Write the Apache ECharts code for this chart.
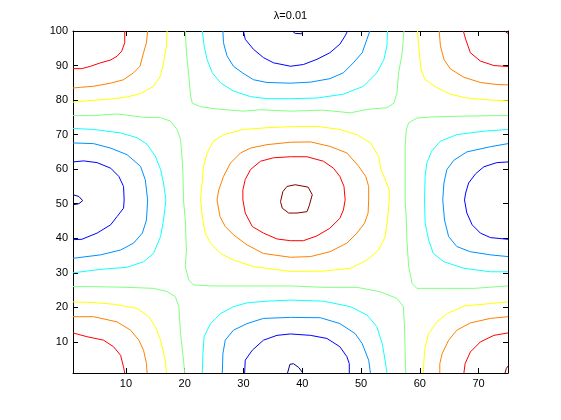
<!DOCTYPE html>
<html>
<head>
<meta charset="utf-8">
<script src="https://cdn.jsdelivr.net/npm/echarts@6/dist/echarts.min.js"></script>
<style>
html,body{margin:0;padding:0;background:#fff;}
#chart{width:561px;height:420px;}
</style>
</head>
<body>
<div id="chart"></div>
<script>
// ---- data (data coordinates) ----
const chartTitle = 'λ=0.01';
const xTicks = [10, 20, 30, 40, 50, 60, 70];
const yTicks = [10, 20, 30, 40, 50, 60, 70, 80, 90, 100];
const xRange = [1, 75];
const yRange = [1, 100];
const levels = [-0.8, -0.6, -0.4, -0.2, 0, 0.2, 0.4, 0.6, 0.8];

// contour lines, one list of polylines per level
const contourNeg08 = [
  [[1,52.6],[2.0,52.1],[2.65,50.9],[2.0,50.0],[1,49.7]],
  [[38.3,100],[38.8,99.3],[39.9,99.2],[40.1,100]],
  [[37.5,1],[37.9,3.5],[38.5,3.7],[39.4,2.6],[40.1,1]]
];
const contourNeg06 = [
  [[30.0,100],[30.3,97.6],[31.7,94.7],[33.4,92.3],[35.1,90.8],[38.0,89.8],[40.2,90.3],[42.5,91.8],[44.7,93.7],[46.4,96.2],[47.3,98.6],[47.7,100]],
  [[1,62.1],[2.8,62.4],[5.1,61.9],[7.4,60.3],[8.8,57.9],[9.6,55.0],[9.7,51.1],[9.6,48.7],[8.5,46.3],[7.4,43.9],[5.1,41.5],[2.5,39.7],[1,39.6]],
  [[30.2,1],[30.3,4.7],[31.5,7.6],[33.4,10.5],[35.7,11.9],[38.0,12.3],[41.4,11.9],[44.2,11.0],[46.4,8.6],[47.6,5.7],[48.0,3.7],[48.0,1]],
  [[75,62.1],[73.1,61.9],[70.9,60.7],[69.5,58.7],[68.3,56.0],[67.8,53.1],[67.6,51.1],[68.0,47.3],[68.9,43.9],[70.3,41.5],[72.0,40.2],[75,39.7]]
];
const contourNeg04 = [
  [[26.5,100],[26.6,96.6],[27.2,92.8],[28.3,89.8],[29.8,87.9],[31.7,85.9],[34.0,85.1],[38.0,84.9],[41.4,85.2],[44.7,86.2],[47.0,87.9],[48.7,90.8],[50.2,93.7],[51.0,97.6],[51.5,100]],
  [[1,67.6],[4.5,67.4],[7.4,66.1],[10.2,64.2],[12.5,60.8],[13.3,56.9],[13.7,51.1],[13.5,45.3],[12.8,41.5],[11.3,38.6],[9.1,36.6],[5.7,35.2],[1,34.2]],
  [[26.4,1],[26.5,6.6],[26.9,10.5],[28.3,13.4],[30.6,15.3],[33.4,16.8],[38.0,17.1],[43.1,17.0],[46.4,15.3],[49.0,12.4],[50.2,9.5],[51.3,4.7],[51.6,1]],
  [[75,67.4],[72.0,66.5],[68.0,65.0],[65.8,62.6],[64.6,59.9],[64.1,56.0],[63.9,51.1],[64.2,45.3],[64.9,40.5],[66.3,37.6],[68.6,36.1],[72.0,35.2],[75,34.7]]
];
const contourNeg02 = [
  [[23.0,100],[23.3,95.7],[23.8,91.8],[24.7,87.9],[26.1,85.0],[28.3,82.6],[31.2,81.0],[34.0,80.4],[38.0,80.4],[42.5,80.6],[47.0,81.7],[50.4,84.0],[52.7,87.9],[53.9,91.8],[54.4,95.7],[54.5,100]],
  [[1,71.8],[4.5,71.5],[9.1,70.5],[11.9,69.1],[13.6,67.2],[15.0,63.8],[15.9,59.9],[16.4,56.0],[16.8,51.1],[16.4,45.3],[15.9,40.5],[14.7,35.6],[13.0,33.2],[10.2,31.6],[5.7,31.0],[1,30.0]],
  [[23.0,1],[23.1,6.6],[23.3,11.5],[24.4,15.3],[26.1,18.2],[28.3,20.2],[30.6,21.3],[34.0,21.8],[38.0,22.1],[43.6,21.8],[48.2,20.2],[51.0,17.8],[52.7,14.4],[53.6,9.5],[54.1,4.7],[54.4,1]],
  [[75,71.5],[70.9,71.0],[66.3,70.0],[63.5,68.1],[62.0,65.2],[61.2,61.8],[60.9,57.9],[60.8,51.1],[60.9,44.4],[61.5,39.5],[62.3,35.6],[64.1,33.2],[67.5,31.3],[72.0,30.3],[75,30.3]]
];
const contourZero = [
  [[20.1,100],[20.3,93.7],[20.7,87.0],[21.0,81.2],[21.3,79.1],[22.7,78.1],[25.5,77.4],[30.0,76.8],[32.9,77.2],[38.0,76.8],[43.6,77.1],[48.2,76.3],[51.0,77.3],[54.4,77.8],[55.6,79.1],[56.1,82.1],[56.4,87.9],[57.0,93.7],[57.3,100]],
  [[1,75.5],[4.5,75.5],[8.5,76.0],[13.0,75.0],[15.9,74.9],[17.6,73.9],[18.7,71.5],[19.3,68.6],[19.5,64.7],[19.7,58.9],[19.8,51.1],[20.1,45.3],[20.3,36.6],[20.1,31.8],[20.7,27.9],[21.5,26.5],[24.4,26.2],[30.0,26.2],[38.0,26.2],[43.6,25.8],[49.3,25.8],[53.3,24.5],[56.1,22.6],[57.2,20.2],[57.4,14.4],[57.5,7.6],[57.6,1]],
  [[75,75.5],[72.0,75.5],[66.3,75.3],[61.8,75.1],[59.5,74.8],[58.1,73.4],[57.7,71.5],[57.5,66.5],[57.5,59.9],[57.5,51.1],[57.7,45.3],[57.8,39.5],[58.1,31.8],[58.7,26.9],[59.5,25.5],[63.5,25.5],[69.2,25.5],[75,26.2]],
  [[1,26.0],[4.5,26.0],[10.2,25.8],[14.7,25.5],[17.0,24.6],[18.4,23.1],[19.0,20.2],[19.3,12.4],[19.8,4.7],[20.0,1]]
];
const contourPos02 = [
  [[17.0,100],[16.9,95.7],[16.4,90.8],[15.9,87.0],[14.7,84.0],[12.5,81.9],[10.2,80.9],[7.4,80.3],[3.4,79.8],[1,79.4]],
  [[59.6,100],[59.8,95.7],[60.2,88.9],[60.9,85.9],[62.9,83.6],[65.2,81.7],[68.0,80.6],[72.0,80.0],[75,79.8]],
  [[1,21.6],[4.5,21.4],[7.9,20.9],[11.9,19.7],[13.9,17.3],[15.0,14.4],[15.9,10.5],[16.7,4.7],[16.9,1]],
  [[75,21.6],[72.0,21.1],[67.5,20.4],[64.7,18.2],[62.9,15.8],[61.5,12.4],[60.9,8.6],[60.7,4.7],[60.6,1]],
  [[22.7,51.1],[23.0,56.8],[23.2,60.7],[23.8,64.7],[24.9,68.1],[26.6,70.0],[30.0,71.5],[34.0,72.0],[38.0,72.3],[42.5,72.4],[46.4,71.5],[49.3,70.0],[51.6,67.6],[53.0,63.7],[53.4,59.9],[54.8,54.0],[54.8,51.1],[54.5,45.3],[54.1,40.5],[53.0,36.6],[51.0,33.7],[48.2,31.3],[43.6,30.5],[38.0,30.4],[31.7,31.8],[28.3,33.7],[26.1,35.6],[24.4,38.6],[23.5,41.5],[23.0,46.3],[22.7,51.1]]
];
const contourPos04 = [
  [[13.7,100],[13.5,96.6],[13.0,93.7],[12.4,89.8],[11.3,87.9],[9.6,85.9],[7.4,84.9],[4.5,84.0],[2.3,83.7],[1,83.5]],
  [[63.3,100],[63.5,95.7],[64.1,91.8],[65.2,89.0],[67.5,86.6],[70.3,85.1],[73.1,84.5],[75,84.4]],
  [[1,17.3],[4.5,17.3],[8.5,15.8],[10.8,13.4],[12.2,10.5],[13.0,7.6],[13.5,3.7],[13.6,1]],
  [[75,17.3],[72.0,16.8],[68.6,15.5],[66.3,13.4],[64.9,10.5],[63.8,6.6],[63.4,3.7],[63.4,1]],
  [[25.5,51.1],[25.8,54.0],[26.6,57.9],[27.8,61.8],[29.5,64.7],[31.2,66.1],[34.0,67.1],[38.0,67.8],[41.4,67.9],[44.7,66.6],[47.6,64.7],[49.6,60.8],[50.8,57.9],[51.3,55.0],[51.3,51.1],[51.2,47.3],[50.6,44.4],[49.3,41.5],[47.6,38.6],[44.7,36.1],[41.4,34.7],[38.0,34.5],[33.4,35.6],[30.6,38.1],[28.3,41.0],[26.9,43.4],[26.0,46.3],[25.5,51.1]]
];
const contourPos06 = [
  [[9.8,100],[9.8,96.6],[9.3,94.2],[8.5,92.7],[7.4,91.6],[5.7,90.8],[4.0,89.8],[2.5,89.1],[1,89.1]],
  [[67.4,100],[67.8,97.6],[68.6,93.7],[70.3,91.3],[72.6,90.0],[75,89.7]],
  [[1,12.6],[3.4,11.5],[6.2,10.5],[7.9,8.6],[9.1,6.1],[9.6,2.7],[9.8,1]],
  [[75,12.6],[72.6,11.9],[70.3,10.0],[68.6,7.1],[67.7,3.7],[67.5,1]],
  [[29.9,51.1],[29.9,54.0],[30.3,57.0],[31.2,59.9],[32.9,62.3],[35.1,63.3],[38.0,63.6],[40.8,63.6],[43.6,62.3],[45.3,60.3],[46.4,57.9],[47.1,55.0],[47.3,51.1],[47.0,48.2],[46.4,45.8],[44.7,42.9],[42.5,40.7],[40.2,39.3],[38.0,39.3],[35.7,39.8],[33.4,41.5],[31.5,43.4],[30.3,47.3],[29.9,51.1]]
];
const contourPos08 = [
  [[38.8,55.5],[41.0,54.8],[41.7,52.6],[41.2,49.5],[40.8,47.7],[39.1,47.3],[37.7,47.3],[36.6,48.7],[36.3,50.6],[36.7,53.5],[37.4,55.0],[38.8,55.5]],
  [[74.4,100],[75,99.3]],
  [[74.5,1],[74.7,2.3],[75,3.0]]
];
const contoursByLevel = [contourNeg08, contourNeg06, contourNeg04, contourNeg02, contourZero, contourPos02, contourPos04, contourPos06, contourPos08];

// ---- styles ----
const levelColors = ['#00008f', '#0000ff', '#0090ff', '#10ffff', '#80ff80', '#ffff00', '#ff8000', '#ff0000', '#800000'];
const fontFamily = '"Liberation Sans", Arial, Helvetica, sans-serif';

const series = [];
contoursByLevel.forEach((lines, li) => {
  lines.forEach((pts) => {
    series.push({
      type: 'line',
      name: 'level ' + levels[li],
      data: pts,
      xAxisIndex: 0,
      yAxisIndex: 0,
      showSymbol: false,
      symbol: 'none',
      smooth: false,
      clip: true,
      silent: true,
      animation: false,
      lineStyle: { color: levelColors[li], width: 1 }
    });
  });
});

const axisLineStyle = { show: true, onZero: false, lineStyle: { color: '#000', width: 1 } };
const tickStyle = (vals) => ({ show: true, inside: true, length: 5, customValues: vals, lineStyle: { color: '#000', width: 1 } });

const chart = echarts.init(document.getElementById('chart'), null, { renderer: 'canvas' });
chart.setOption({
  backgroundColor: '#fff',
  animation: false,
  grid: { left: 73, right: 53, top: 31, bottom: 47, containLabel: false },
  xAxis: [
    { type: 'value', min: xRange[0], max: xRange[1], position: 'bottom',
      axisLine: axisLineStyle, axisTick: tickStyle(xTicks),
      axisLabel: { customValues: xTicks, color: '#000', fontSize: 11, fontFamily: fontFamily, margin: 5 },
      splitLine: { show: false } },
    { type: 'value', min: xRange[0], max: xRange[1], position: 'top',
      axisLine: axisLineStyle, axisTick: tickStyle(xTicks),
      axisLabel: { show: false }, splitLine: { show: false } }
  ],
  yAxis: [
    { type: 'value', min: yRange[0], max: yRange[1], position: 'left',
      axisLine: axisLineStyle, axisTick: tickStyle(yTicks),
      axisLabel: { customValues: yTicks, color: '#000', fontSize: 11, fontFamily: fontFamily, margin: 5 },
      splitLine: { show: false } },
    { type: 'value', min: yRange[0], max: yRange[1], position: 'right',
      axisLine: axisLineStyle, axisTick: tickStyle(yTicks),
      axisLabel: { show: false }, splitLine: { show: false } }
  ],
  graphic: [
    { type: 'text', x: 290.5, y: 16,
      style: { text: chartTitle, fill: '#000', font: '11px ' + fontFamily, textAlign: 'center', textVerticalAlign: 'middle' } }
  ],
  series: series
});
</script>
</body>
</html>
